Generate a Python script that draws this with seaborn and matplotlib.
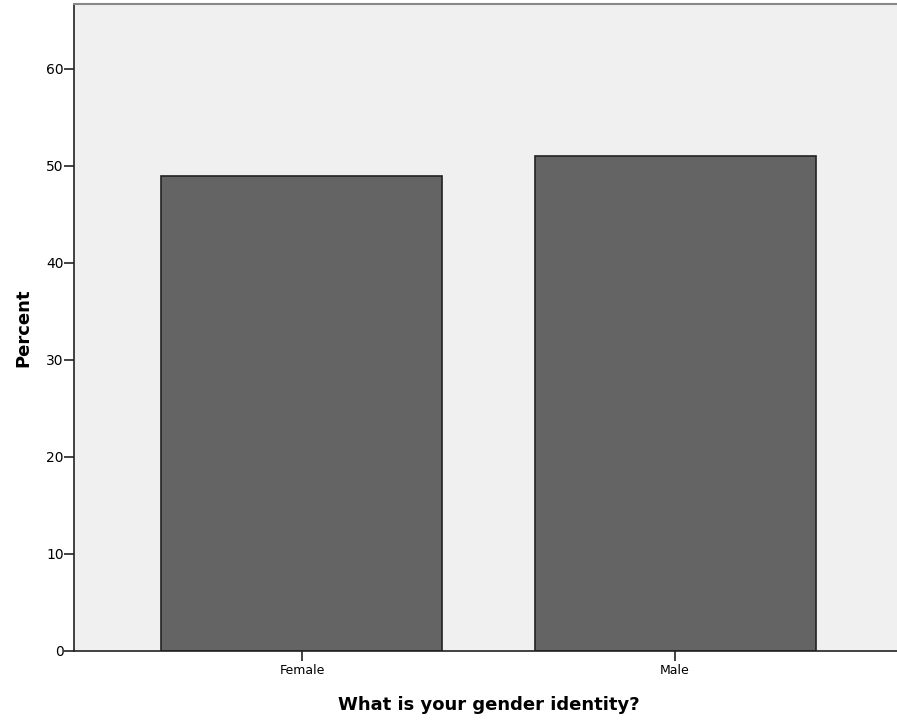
import numpy as np
import pandas as pd
import matplotlib
matplotlib.use("Agg")
import matplotlib.pyplot as plt
import seaborn as sns

# Data
categories = ["Female", "Male"]
percents = [49.0, 51.0]

df = pd.DataFrame({"gender": categories, "percent": percents})

sns.set_style("white")
plt.rcParams["font.family"] = ["DejaVu Sans"]
plt.rcParams["text.color"] = "black"
plt.rcParams["axes.labelcolor"] = "black"
plt.rcParams["xtick.color"] = "black"
plt.rcParams["ytick.color"] = "black"

fig = plt.figure(figsize=(8.97, 7.21), dpi=100)
ax = fig.add_axes([74 / 897, 70 / 721, 829 / 897, 647 / 721])

sns.barplot(data=df, x="gender", y="percent", color="#646464", saturation=1,
            width=0.753, edgecolor="#222222", linewidth=1.2, ax=ax)

ax.set_facecolor("#F0F0F0")
ax.set_xlim(-0.611, 1.611)
ax.set_ylim(0, 66.7)
ax.set_yticks([0, 10, 20, 30, 40, 50, 60])

for side in ["left", "bottom"]:
    ax.spines[side].set_color("#222222")
    ax.spines[side].set_linewidth(1.2)
ax.spines["top"].set_color("#888888")
ax.spines["top"].set_linewidth(1.5)
ax.spines["right"].set_visible(False)

ax.tick_params(axis="both", direction="out", length=7, width=1.2, color="#222222",
               left=True, bottom=True)
ax.tick_params(axis="y", pad=0.5, labelsize=10)
ax.tick_params(axis="x", pad=2, labelsize=9)

ax.set_xlabel("What is your gender identity?", fontsize=13, fontweight="bold", labelpad=14)
ax.set_ylabel("Percent", fontsize=13, fontweight="bold", labelpad=10)

fig.savefig("out.png", dpi=100)
